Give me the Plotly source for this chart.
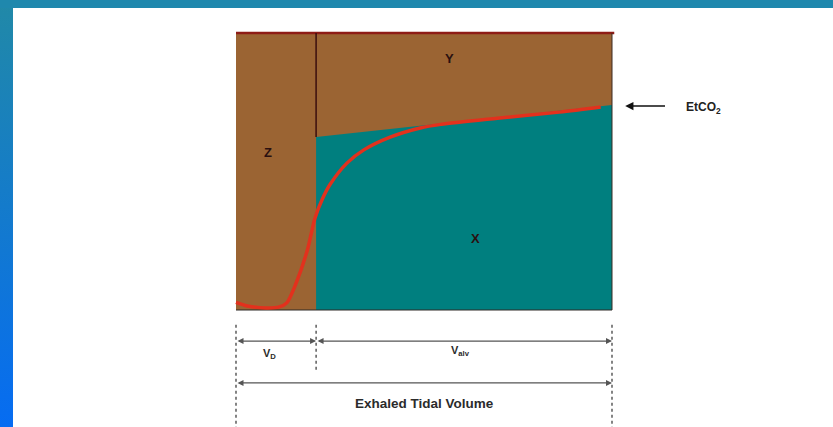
import plotly.graph_objects as go

# Capnogram (single-breath CO2 vs exhaled volume), Fletcher-style areas
volume = [0.0, 0.03, 0.08, 0.115, 0.135, 0.16, 0.19, 0.21, 0.23, 0.25,
          0.295, 0.34, 0.41, 0.49, 0.545, 0.695, 0.86, 0.97]
pco2 = [1.5, 0.8, 0.4, 0.6, 1.4, 5.3, 11.8, 18.0, 21.8, 24.6,
        28.8, 31.4, 33.9, 35.7, 36.4, 37.6, 38.8, 39.8]

dead_space = 0.213          # V_D as fraction of exhaled tidal volume
paco2 = 54.3                # arterial CO2 (top line)
plateau = [33.9, 40.2]      # alveolar plateau at V_D and at end of breath
etco2 = 40.0

area_labels = ["Y", "Z", "X"]
area_x = [0.569, 0.085, 0.638]
area_y = [49.4, 30.8, 14.1]

BROWN = "#9B6433"
TEAL = "#007F7F"
RED = "#E2311D"
DARK = "#3A0E0E"
INK = "#2B2B2B"

fig = go.Figure()

# Whole area under PaCO2
fig.add_trace(go.Scatter(x=[0, 1, 1, 0, 0], y=[0, 0, paco2, paco2, 0],
                         fill="toself", fillcolor=BROWN, mode="none",
                         hoverinfo="skip"))
# Alveolar CO2 area (X)
fig.add_trace(go.Scatter(x=[dead_space, dead_space, 1, 1, dead_space],
                         y=[0, plateau[0], plateau[1], 0, 0],
                         fill="toself", fillcolor=TEAL, mode="none",
                         hoverinfo="skip"))
# PaCO2 line
fig.add_trace(go.Scatter(x=[0, 1.006], y=[paco2, paco2], mode="lines",
                         line=dict(color="#8E1C16", width=2.5), hoverinfo="skip"))
# Dead-space divider
fig.add_trace(go.Scatter(x=[dead_space, dead_space], y=[plateau[0], paco2],
                         mode="lines", line=dict(color=DARK, width=1.5),
                         hoverinfo="skip"))
# Right and bottom borders
fig.add_trace(go.Scatter(x=[1, 1], y=[0, paco2], mode="lines",
                         line=dict(color="#3B2A22", width=1), hoverinfo="skip"))
fig.add_trace(go.Scatter(x=[0, 1], y=[0, 0], mode="lines",
                         line=dict(color="#2E2A26", width=1.2), hoverinfo="skip"))
# Capnogram curve
fig.add_trace(go.Scatter(x=volume, y=pco2, mode="lines",
                         line=dict(color=RED, width=3.5, shape="spline", smoothing=0.8),
                         hoverinfo="skip"))

# Dotted extension lines below the chart
for xv, ybot in [(0, -23), (dead_space, -12.2), (1, -23)]:
    fig.add_trace(go.Scatter(x=[xv, xv], y=[-2.9, ybot], mode="lines",
                             line=dict(color="#333333", width=1.2, dash="dot"),
                             hoverinfo="skip"))

# Frame decoration (overlay axes in paper-like units)
fig.add_trace(go.Scatter(x=[0, 13 / 833, 13 / 833, 0, 0], y=[0, 0, 1, 1, 0],
                         fill="toself", mode="none", xaxis="x2", yaxis="y2",
                         fillgradient=dict(type="vertical",
                                           colorscale=[[0, "#066CF2"], [1, "#2189A7"]]),
                         hoverinfo="skip"))
fig.add_trace(go.Scatter(x=[0, 1, 1, 0, 0], y=[1 - 8 / 427, 1 - 8 / 427, 1, 1, 1 - 8 / 427],
                         fill="toself", fillcolor="#1F88AD", mode="none",
                         xaxis="x2", yaxis="y2", hoverinfo="skip"))

ann = []
for t, xv, yv in zip(area_labels, area_x, area_y):
    ann.append(dict(x=xv, y=yv, text=f"<b>{t}</b>", showarrow=False,
                    font=dict(family="Liberation Sans", size=13, color="#2A1010")))

# EtCO2 pointer
ann.append(dict(x=1.035, y=etco2, ax=1.145, ay=etco2, axref="x", ayref="y",
                text="", showarrow=True, arrowhead=2, arrowsize=1.1,
                arrowwidth=1.5, arrowcolor="#111111"))
ann.append(dict(x=1.243, y=etco2 - 0.4, text="<b>EtCO<sub>2</sub></b>", showarrow=False,
                font=dict(family="Liberation Sans", size=12, color="#222222")))

# Dimension arrows
dims = [(0, dead_space, -6.1), (dead_space, 1, -6.1), (0, 1, -14.3)]
for a, b, yv in dims:
    ann.append(dict(x=b, y=yv, ax=a, ay=yv, axref="x", ayref="y", text="",
                    showarrow=True, arrowhead=2, startarrowhead=2,
                    arrowside="end+start", arrowsize=1.0, startarrowsize=1.0,
                    arrowwidth=1.2, arrowcolor="#555555"))
ann.append(dict(x=0.088, y=-8.6, text="<b>V<sub>D</sub></b>", showarrow=False,
                font=dict(family="Liberation Sans", size=11, color=INK)))
ann.append(dict(x=0.598, y=-8.0, text="<b>V<sub>alv</sub></b>", showarrow=False,
                font=dict(family="Liberation Sans", size=11, color=INK)))
ann.append(dict(x=0.5, y=-18.4, text="<b>Exhaled Tidal Volume</b>", showarrow=False,
                font=dict(family="Liberation Sans", size=13.5, color=INK)))

fig.update_layout(
    width=833, height=427,
    margin=dict(l=0, r=0, t=0, b=0),
    paper_bgcolor="white", plot_bgcolor="white",
    showlegend=False,
    xaxis=dict(range=[-236 / 376, 597 / 376], visible=False, fixedrange=True),
    yaxis=dict(range=[-117 / 5.1, 310 / 5.1], visible=False, fixedrange=True),
    xaxis2=dict(range=[0, 1], visible=False, overlaying="x", fixedrange=True),
    yaxis2=dict(range=[0, 1], visible=False, overlaying="y", fixedrange=True),
    annotations=ann,
)

fig.write_html("out.html")
